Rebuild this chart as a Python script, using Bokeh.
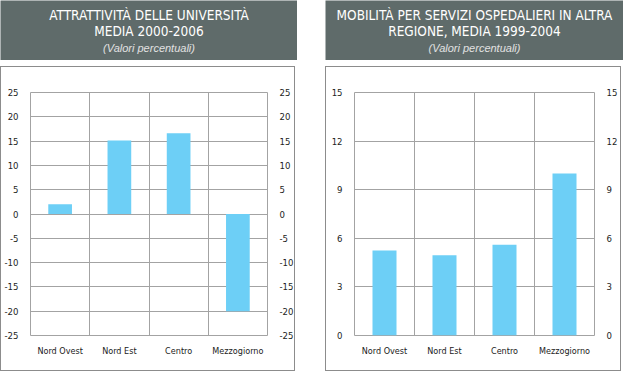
from bokeh.plotting import figure
from bokeh.models import FixedTicker, Label, LinearAxis, Range1d, Spacer
from bokeh.layouts import row, column
from bokeh.embed import file_html
from bokeh.resources import INLINE

# ---- data ----
categories = ["Nord Ovest", "Nord Est", "Centro", "Mezzogiorno"]
univ_values = [2.0, 15.1, 16.6, -20.0]
osp_values = [5.25, 4.95, 5.6, 10.0]
univ_ticks = [-25, -20, -15, -10, -5, 0, 5, 10, 15, 20, 25]
osp_ticks = [0, 3, 6, 9, 12, 15]
univ_title = ["ATTRATTIVITÀ DELLE UNIVERSITÀ", "MEDIA 2000-2006"]
osp_title = ["MOBILITÀ PER SERVIZI OSPEDALIERI IN ALTRA", "REGIONE, MEDIA 1999-2004"]
subtitle = "(Valori percentuali)"

# ---- style ----
GREY = "#5f6b6a"
BAR = "#6dcff6"
GRID = "#a3a3a3"
BOX = "#8c8c8c"
NARROW = "DejaVu Sans Condensed"


def title_fig(lines, w, h):
    t = figure(width=w, height=h, x_range=Range1d(0, 1), y_range=Range1d(0, h),
               output_backend="svg", toolbar_location=None,
               min_border=0, min_border_left=0, min_border_right=0,
               min_border_top=0, min_border_bottom=0,
               x_axis_location=None, y_axis_location=None,
               background_fill_color=GREY, border_fill_color=GREY,
               outline_line_color=None, frame_align=False)
    t.grid.visible = False
    for y, txt in zip([14.5, 30.5], lines):
        t.add_layout(Label(x=0.5, y=h - y, text=txt, text_align="center",
                           text_baseline="middle", text_color="white",
                           text_font=NARROW, text_font_size="13.5px"))
    t.add_layout(Label(x=0.5, y=h - 47.5, text=subtitle, text_align="center",
                       text_baseline="middle", text_color="#e2e2e2",
                       text_font="Liberation Sans", text_font_style="italic",
                       text_font_size="11px"))
    return t


def chart(values, ticks, w, h):
    n = len(categories)
    xs = [i + 0.5 for i in range(n)]
    p = figure(width=w, height=h, x_range=Range1d(0, n),
               y_range=Range1d(ticks[0], ticks[-1]),
               output_backend="svg", toolbar_location=None,
               min_border_left=28, min_border_right=28,
               min_border_top=25, min_border_bottom=37,
               background_fill_color="white", border_fill_color="white",
               outline_line_color=GRID, frame_align=False,
               styles={"border": "1px solid " + BOX})
    p.vbar(x=xs, top=values, bottom=0, width=0.4, fill_color=BAR, line_color=None)

    p.add_layout(LinearAxis(), "right")
    for ax in p.yaxis:
        ax.ticker = FixedTicker(ticks=ticks)
        ax.major_label_overrides = {t: str(t) for t in ticks}
        ax.major_label_standoff = 6
        ax.major_label_text_font_size = "9.5px"
    p.xaxis.ticker = FixedTicker(ticks=xs)
    p.xaxis.major_label_overrides = {x: c for x, c in zip(xs, categories)}
    p.xaxis.major_label_standoff = 4
    p.xaxis.major_label_text_font_size = "9px"
    for ax in p.axis:
        ax.axis_line_color = None
        ax.major_tick_line_color = None
        ax.minor_tick_line_color = None
        ax.major_label_text_font = NARROW
        ax.major_label_text_color = "#222222"

    p.xgrid.ticker = FixedTicker(ticks=list(range(1, n)))
    p.ygrid.ticker = FixedTicker(ticks=ticks)
    p.grid.grid_line_color = GRID
    p.grid.grid_line_width = 1
    return p


left = column(title_fig(univ_title, 297, 60), Spacer(height=6),
              chart(univ_values, univ_ticks, 295, 305))
right = column(title_fig(osp_title, 298, 60), Spacer(height=6),
               chart(osp_values, osp_ticks, 296, 305))
layout = row(left, Spacer(width=28), right)

open("out.html", "w").write(file_html(layout, INLINE))
